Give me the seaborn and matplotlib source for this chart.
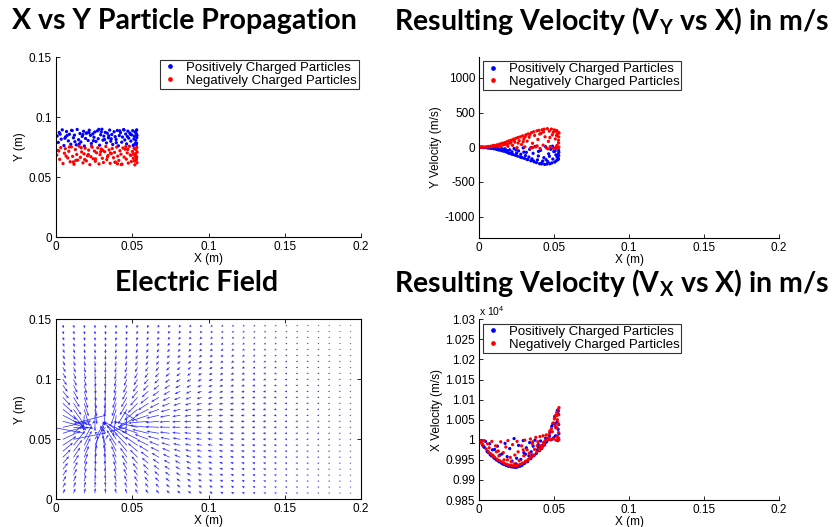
import numpy as np
import pandas as pd
import matplotlib
matplotlib.use("Agg")
import matplotlib.pyplot as plt
import seaborn as sns

# ---------------------------------------------------------------- particle data
# positively charged particles: position (m), y velocity (m/s), x velocity (m/s)
pos_x = [0.0008, 0.0015, 0.0021, 0.0034, 0.0041, 0.0052, 0.0063, 0.0069, 0.0081, 0.0088,
         0.0097, 0.0106, 0.0114, 0.0121, 0.0133, 0.0139, 0.0148, 0.0157, 0.0163, 0.0172,
         0.0181, 0.0186, 0.0194, 0.0203, 0.0211, 0.0218, 0.0226, 0.0232, 0.0241, 0.0249,
         0.0254, 0.0262, 0.0271, 0.0277, 0.0286, 0.0293, 0.0301, 0.0308, 0.0314, 0.0323,
         0.0331, 0.0336, 0.0344, 0.0352, 0.0359, 0.0366, 0.0372, 0.0381, 0.0388, 0.0394,
         0.0402, 0.0409, 0.0415, 0.0423, 0.0431, 0.0436, 0.0443, 0.0451, 0.0457, 0.0463,
         0.0471, 0.0477, 0.0484, 0.0491, 0.0497, 0.0503, 0.0509, 0.0514, 0.0519, 0.0523,
         0.0526, 0.0528, 0.0529, 0.0530, 0.0531, 0.0527, 0.0524, 0.0511, 0.0488, 0.0446,
         0.0395, 0.0346, 0.0297, 0.0245, 0.0198, 0.0152, 0.0102, 0.0058, 0.0027, 0.0124,
         0.0216, 0.0318, 0.0418, 0.0468, 0.0506, 0.0176, 0.0281, 0.0362, 0.0073, 0.0521]
pos_y = [0.0842, 0.0788, 0.0871, 0.0815, 0.0893, 0.0762, 0.0834, 0.0879, 0.0801, 0.0856,
         0.0773, 0.0887, 0.0827, 0.0849, 0.0768, 0.0896, 0.0811, 0.0862, 0.0792, 0.0838,
         0.0881, 0.0758, 0.0821, 0.0868, 0.0804, 0.0890, 0.0847, 0.0779, 0.0859, 0.0831,
         0.0875, 0.0796, 0.0884, 0.0819, 0.0765, 0.0852, 0.0898, 0.0807, 0.0840, 0.0872,
         0.0784, 0.0865, 0.0826, 0.0891, 0.0798, 0.0854, 0.0771, 0.0877, 0.0836, 0.0813,
         0.0888, 0.0760, 0.0845, 0.0869, 0.0790, 0.0833, 0.0895, 0.0809, 0.0858, 0.0776,
         0.0882, 0.0824, 0.0866, 0.0799, 0.0851, 0.0886, 0.0767, 0.0839, 0.0874, 0.0806,
         0.0861, 0.0782, 0.0893, 0.0829, 0.0848, 0.0770, 0.0880, 0.0817, 0.0855, 0.0892,
         0.0786, 0.0843, 0.0876, 0.0802, 0.0864, 0.0775, 0.0889, 0.0823, 0.0857, 0.0794,
         0.0870, 0.0812, 0.0885, 0.0837, 0.0763, 0.0853, 0.0897, 0.0818, 0.0846, 0.0780]
pos_vy = [-1, -1, -2, -4, -3, -7, -9, -5, -16, -12,
          -22, -18, -30, -14, -40, -27, -50, -34, -58, -22,
          -70, -48, -81, -37, -92, -66, -104, -18, -116, -85,
          -126, -52, -139, -101, -150, -9, -160, -120, -73, -178,
          -141, -30, -194, -167, -88, -210, 12, -221, -182, -126,
          -236, -45, -240, -199, -150, -247, 8, -243, -208, -95,
          -238, -30, -226, -170, -62, -214, -12, -195, -140, -180,
          -101, -163, -44, -120, -72, -172, -20, -110, 15, -180,
          -60, -5, -70, -40, -84, -20, -10, -9, -3, -35,
          -97, -176, -223, -130, -55, -60, -146, -197, -14, -5]
pos_vx = [9995, 9998, 9987, 9981, 9996, 9971, 9968, 9990, 9960, 9975,
          9955, 9953, 9950, 9984, 9945, 9962, 9942, 9940, 9939, 9991,
          9936, 9958, 9934, 9978, 9933, 9947, 9932, 10003, 9931, 9954,
          9932, 9986, 9934, 9951, 9937, 9998, 9941, 9964, 9980, 9946,
          9960, 9993, 9953, 9962, 9984, 9961, 9999, 9966, 9975, 9988,
          9973, 9997, 9978, 9986, 9993, 9987, 10004, 9996, 10002, 10001,
          10018, 10000, 10034, 10040, 10005, 10058, 10010, 10062, 10045, 10070,
          10026, 10064, 10003, 10038, 10015, 10072, 9998, 10030, 10002, 9994,
          9982, 9970, 9968, 9940, 9935, 9965, 9976, 9969, 9984, 9948,
          9933, 9945, 9980, 10009, 10040, 9937, 9936, 9960, 9963, 10073]

# negatively charged particles
neg_x = [0.0005, 0.0012, 0.0024, 0.0031, 0.0046, 0.0055, 0.0061, 0.0077, 0.0084, 0.0093,
         0.0101, 0.0109, 0.0118, 0.0127, 0.0136, 0.0143, 0.0151, 0.0160, 0.0168, 0.0177,
         0.0184, 0.0191, 0.0199, 0.0207, 0.0214, 0.0222, 0.0229, 0.0237, 0.0244, 0.0252,
         0.0258, 0.0266, 0.0274, 0.0282, 0.0289, 0.0297, 0.0304, 0.0311, 0.0319, 0.0327,
         0.0333, 0.0341, 0.0348, 0.0355, 0.0363, 0.0369, 0.0377, 0.0384, 0.0391, 0.0398,
         0.0405, 0.0412, 0.0419, 0.0426, 0.0433, 0.0439, 0.0447, 0.0454, 0.0461, 0.0467,
         0.0474, 0.0481, 0.0487, 0.0494, 0.0501, 0.0507, 0.0512, 0.0517, 0.0521, 0.0525,
         0.0527, 0.0529, 0.0530, 0.0531, 0.0532, 0.0528, 0.0522, 0.0515, 0.0493, 0.0458,
         0.0403, 0.0357, 0.0306, 0.0259, 0.0212, 0.0165, 0.0114, 0.0066, 0.0018, 0.0131,
         0.0233, 0.0338, 0.0428, 0.0471, 0.0509, 0.0188, 0.0293, 0.0386, 0.0088, 0.0518]
neg_y = [0.0683, 0.0721, 0.0647, 0.0745, 0.0612, 0.0698, 0.0736, 0.0659, 0.0714, 0.0627,
         0.0751, 0.0672, 0.0606, 0.0729, 0.0688, 0.0641, 0.0757, 0.0664, 0.0709, 0.0618,
         0.0693, 0.0740, 0.0635, 0.0677, 0.0724, 0.0603, 0.0669, 0.0748, 0.0652, 0.0716,
         0.0631, 0.0702, 0.0743, 0.0609, 0.0686, 0.0733, 0.0656, 0.0621, 0.0711, 0.0754,
         0.0645, 0.0679, 0.0726, 0.0614, 0.0696, 0.0738, 0.0661, 0.0705, 0.0624, 0.0749,
         0.0674, 0.0638, 0.0719, 0.0690, 0.0607, 0.0742, 0.0666, 0.0731, 0.0649, 0.0701,
         0.0616, 0.0756, 0.0684, 0.0629, 0.0713, 0.0655, 0.0739, 0.0601, 0.0694, 0.0727,
         0.0643, 0.0670, 0.0747, 0.0619, 0.0707, 0.0661, 0.0734, 0.0633, 0.0681, 0.0753,
         0.0610, 0.0699, 0.0722, 0.0651, 0.0687, 0.0744, 0.0626, 0.0675, 0.0717, 0.0639,
         0.0758, 0.0668, 0.0604, 0.0730, 0.0692, 0.0646, 0.0711, 0.0623, 0.0750, 0.0678]
neg_vy = [1, 2, 3, 2, 6, 4, 11, 15, 7, 22,
          26, 12, 35, 20, 46, 8, 57, 33, 66, 41,
          80, 14, 93, 60, 102, 28, 117, 74, 128, -5,
          141, 95, 150, 40, 164, 120, 6, 180, 88, 192,
          145, -12, 210, 58, 223, 170, 4, 236, 112, 243,
          -18, 200, 252, 30, 260, 150, -8, 268, 85, 232,
          10, 262, 178, -15, 250, 120, 5, 240, 190, -10,
          215, 60, 150, 2, 205, 100, -20, 170, 215, -22,
          190, -6, 150, 60, 75, 52, 18, 6, 1, 30,
          100, 185, 220, 140, 230, 50, 80, 20, 18, 25]
neg_vx = [9998, 9994, 9987, 9998, 9977, 9990, 9970, 9965, 9996, 9960,
          9957, 9985, 9952, 9972, 9948, 9995, 9945, 9968, 9941, 9982,
          9939, 9998, 9937, 9956, 9936, 9988, 9935, 9962, 9936, 9996,
          9937, 9948, 9939, 9985, 9942, 9960, 9999, 9947, 9975, 9951,
          9966, 10002, 9957, 9990, 9962, 9976, 10006, 9969, 9995, 9974,
          10008, 9985, 9981, 10010, 9987, 9998, 10012, 10000, 10004, 10015,
          10001, 10028, 10020, 10002, 10052, 10035, 9999, 10068, 10050, 10003,
          10076, 10018, 10062, 10000, 10080, 10040, 10008, 10060, 10042, 10003,
          9976, 9995, 9946, 9970, 9945, 9950, 9970, 9980, 9990, 9960,
          9940, 9955, 9992, 10022, 10060, 9950, 9975, 9985, 9962, 10030]

species = ["Positively Charged Particles", "Negatively Charged Particles"]
species_colors = ["#0000ff", "#ff0000"]

# ------------------------------------------------------- field source charges
source_x = [0.006, 0.010, 0.014, 0.018, 0.022, 0.026, 0.030, 0.034, 0.038, 0.042, 0.046,
            0.050, 0.054, 0.008, 0.016, 0.024, 0.032, 0.040, 0.048, 0.012, 0.028, 0.044]
source_y = [0.062, 0.057, 0.065, 0.055, 0.060, 0.052, 0.058, 0.049, 0.056, 0.061, 0.058,
            0.063, 0.066, 0.068, 0.069, 0.067, 0.070, 0.068, 0.069, 0.050, 0.047, 0.053]
source_q = [-1.0] * len(source_x)

# tick values and labels
x_ticks = [0, 0.05, 0.1, 0.15, 0.2]
x_tick_labels = ["0", "0.05", "0.1", "0.15", "0.2"]
pos_ticks = [0, 0.05, 0.1, 0.15]
pos_tick_labels = ["0", "0.05", "0.1", "0.15"]
vy_ticks = [-1000, -500, 0, 500, 1000]
vy_tick_labels = ["-1000", "-500", "0", "500", "1000"]
vx_ticks = [9850, 9900, 9950, 10000, 10050, 10100, 10150, 10200, 10250, 10300]
vx_tick_labels = ["0.985", "0.99", "0.995", "1", "1.005", "1.01", "1.015", "1.02", "1.025", "1.03"]

particles = pd.concat([
    pd.DataFrame({"x": pos_x, "y": pos_y, "vy": pos_vy, "vx": pos_vx, "kind": species[0]}),
    pd.DataFrame({"x": neg_x, "y": neg_y, "vy": neg_vy, "vx": neg_vx, "kind": species[1]}),
], ignore_index=True)

# ---------------------------------------------------------------- styling
sns.set_style("white")
plt.rcParams["font.family"] = ["Liberation Sans", "DejaVu Sans"]
plt.rcParams["mathtext.fontset"] = "custom"
plt.rcParams["mathtext.rm"] = "Liberation Sans"
plt.rcParams["mathtext.bf"] = "Lato:bold"
for key in ("text.color", "axes.labelcolor", "xtick.color", "ytick.color"):
    plt.rcParams[key] = "black"
TICK_FS = 8.5
TITLE_FONT = dict(family=["Lato", "DejaVu Sans"], fontweight="bold", fontsize=20.5,
                  color="black")

fig = plt.figure(figsize=(8.33, 5.27), dpi=100)
W, H = 833.0, 527.0


def axes_px(left, top, right, bottom):
    return fig.add_axes([left / W, 1 - bottom / H, (right - left) / W, (bottom - top) / H])


ax_xy = axes_px(56, 57, 361, 237)
ax_vy = axes_px(479.3, 57, 779, 237.5)
ax_ef = axes_px(56, 319.3, 361, 499.3)
ax_vx = axes_px(479.3, 319.3, 779, 500)


def style_axes(ax, box=False):
    for side in ("left", "bottom"):
        ax.spines[side].set_visible(True)
        ax.spines[side].set_color("black")
        ax.spines[side].set_linewidth(0.8)
    for side in ("top", "right"):
        ax.spines[side].set_visible(box)
        ax.spines[side].set_color("black")
        ax.spines[side].set_linewidth(0.8)
    ax.tick_params(direction="in", length=3, width=0.6, labelsize=TICK_FS,
                   top=box, right=box, left=True, bottom=True, pad=3)
    ax.set_xlim(0, 0.2)
    ax.set_xticks(x_ticks)
    ax.set_xticklabels(x_tick_labels)
    ax.set_xlabel("X (m)", fontsize=TICK_FS, labelpad=0)


def particle_scatter(ax, ycol):
    sns.scatterplot(data=particles, x="x", y=ycol, hue="kind", hue_order=species,
                    palette=species_colors, s=5.5, linewidth=0, edgecolor="none",
                    ax=ax, legend=False)
    handles = [plt.Line2D([], [], ls="none", marker="o", ms=3.4, mfc=c, mec="none")
               for c in species_colors]
    return handles


def add_legend(ax, handles, loc, anchor):
    leg = ax.legend(handles, species, loc=loc, bbox_to_anchor=anchor, fontsize=9.5,
                    frameon=True, fancybox=False, framealpha=1, edgecolor="#333333",
                    borderpad=0.15, labelspacing=0.05, handlelength=1.2,
                    handletextpad=0.6, borderaxespad=0)
    leg.get_frame().set_linewidth(0.8)


# ---- X vs Y
h = particle_scatter(ax_xy, "y")
style_axes(ax_xy)
ax_xy.set_ylim(0, 0.15)
ax_xy.set_yticks(pos_ticks)
ax_xy.set_yticklabels(pos_tick_labels)
ax_xy.set_ylabel("Y (m)", fontsize=TICK_FS, labelpad=2)
add_legend(ax_xy, h, "upper right", (0.993, 0.985))

# ---- Vy vs X
h = particle_scatter(ax_vy, "vy")
style_axes(ax_vy)
ax_vy.set_ylim(-1300, 1300)
ax_vy.set_yticks(vy_ticks)
ax_vy.set_yticklabels(vy_tick_labels)
ax_vy.set_ylabel("Y Velocity (m/s)", fontsize=TICK_FS, labelpad=2)
add_legend(ax_vy, h, "upper left", (0.012, 0.978))

# ---- Vx vs X
h = particle_scatter(ax_vx, "vx")
style_axes(ax_vx)
ax_vx.set_ylim(9850, 10300)
ax_vx.set_yticks(vx_ticks)
ax_vx.set_yticklabels(vx_tick_labels)
ax_vx.set_ylabel("X Velocity (m/s)", fontsize=TICK_FS, labelpad=2)
ax_vx.text(0.0, 1.005, r"x 10$^{4}$", transform=ax_vx.transAxes, fontsize=7.5,
           ha="left", va="bottom")
add_legend(ax_vx, h, "upper left", (0.012, 0.976))

# ---- electric field of the charge layer on a regular grid
grid_x = np.linspace(0.0045, 0.1935, 28)
grid_y = np.linspace(0.005, 0.145, 29)
gx, gy = np.meshgrid(grid_x, grid_y)
ex = np.zeros_like(gx)
ey = np.zeros_like(gy)
for sx, sy, q in zip(source_x, source_y, source_q):
    dx = gx - sx
    dy = gy - sy
    r2 = dx ** 2 + dy ** 2
    ex += q * dx / r2
    ey += q * dy / r2
mag = np.hypot(ex, ey)
# arrow length grows with field strength, capped close to the charges
arrow_len = np.minimum(1.94e-6 * mag ** 1.3, 0.022)
u = ex / mag * arrow_len
v = ey / mag * arrow_len
ax_ef.quiver(gx, gy, u, v, angles="xy", scale_units="xy", scale=1, color="#1a1aff",
             width=0.0024, headwidth=3.5, headlength=4, headaxislength=3.5,
             minlength=0.3, alpha=0.9)
style_axes(ax_ef, box=True)
ax_ef.set_ylim(0, 0.15)
ax_ef.set_yticks(pos_ticks)
ax_ef.set_yticklabels(pos_tick_labels)
ax_ef.set_ylabel("Y (m)", fontsize=TICK_FS, labelpad=2)

# ---- panel titles
fig.text(184 / W, 1 - 21 / H, "X vs Y Particle Propagation", ha="center", va="center", **TITLE_FONT)
fig.text(612 / W, 1 - 21 / H, r"Resulting Velocity (V$_\mathbf{Y}$ vs X) in m/s",
         ha="center", va="center", **TITLE_FONT)
fig.text(197 / W, 1 - 283 / H, "Electric Field", ha="center", va="center", **TITLE_FONT)
fig.text(612 / W, 1 - 283 / H, r"Resulting Velocity (V$_\mathbf{X}$ vs X) in m/s",
         ha="center", va="center", **TITLE_FONT)

fig.savefig("out.png", dpi=100)
